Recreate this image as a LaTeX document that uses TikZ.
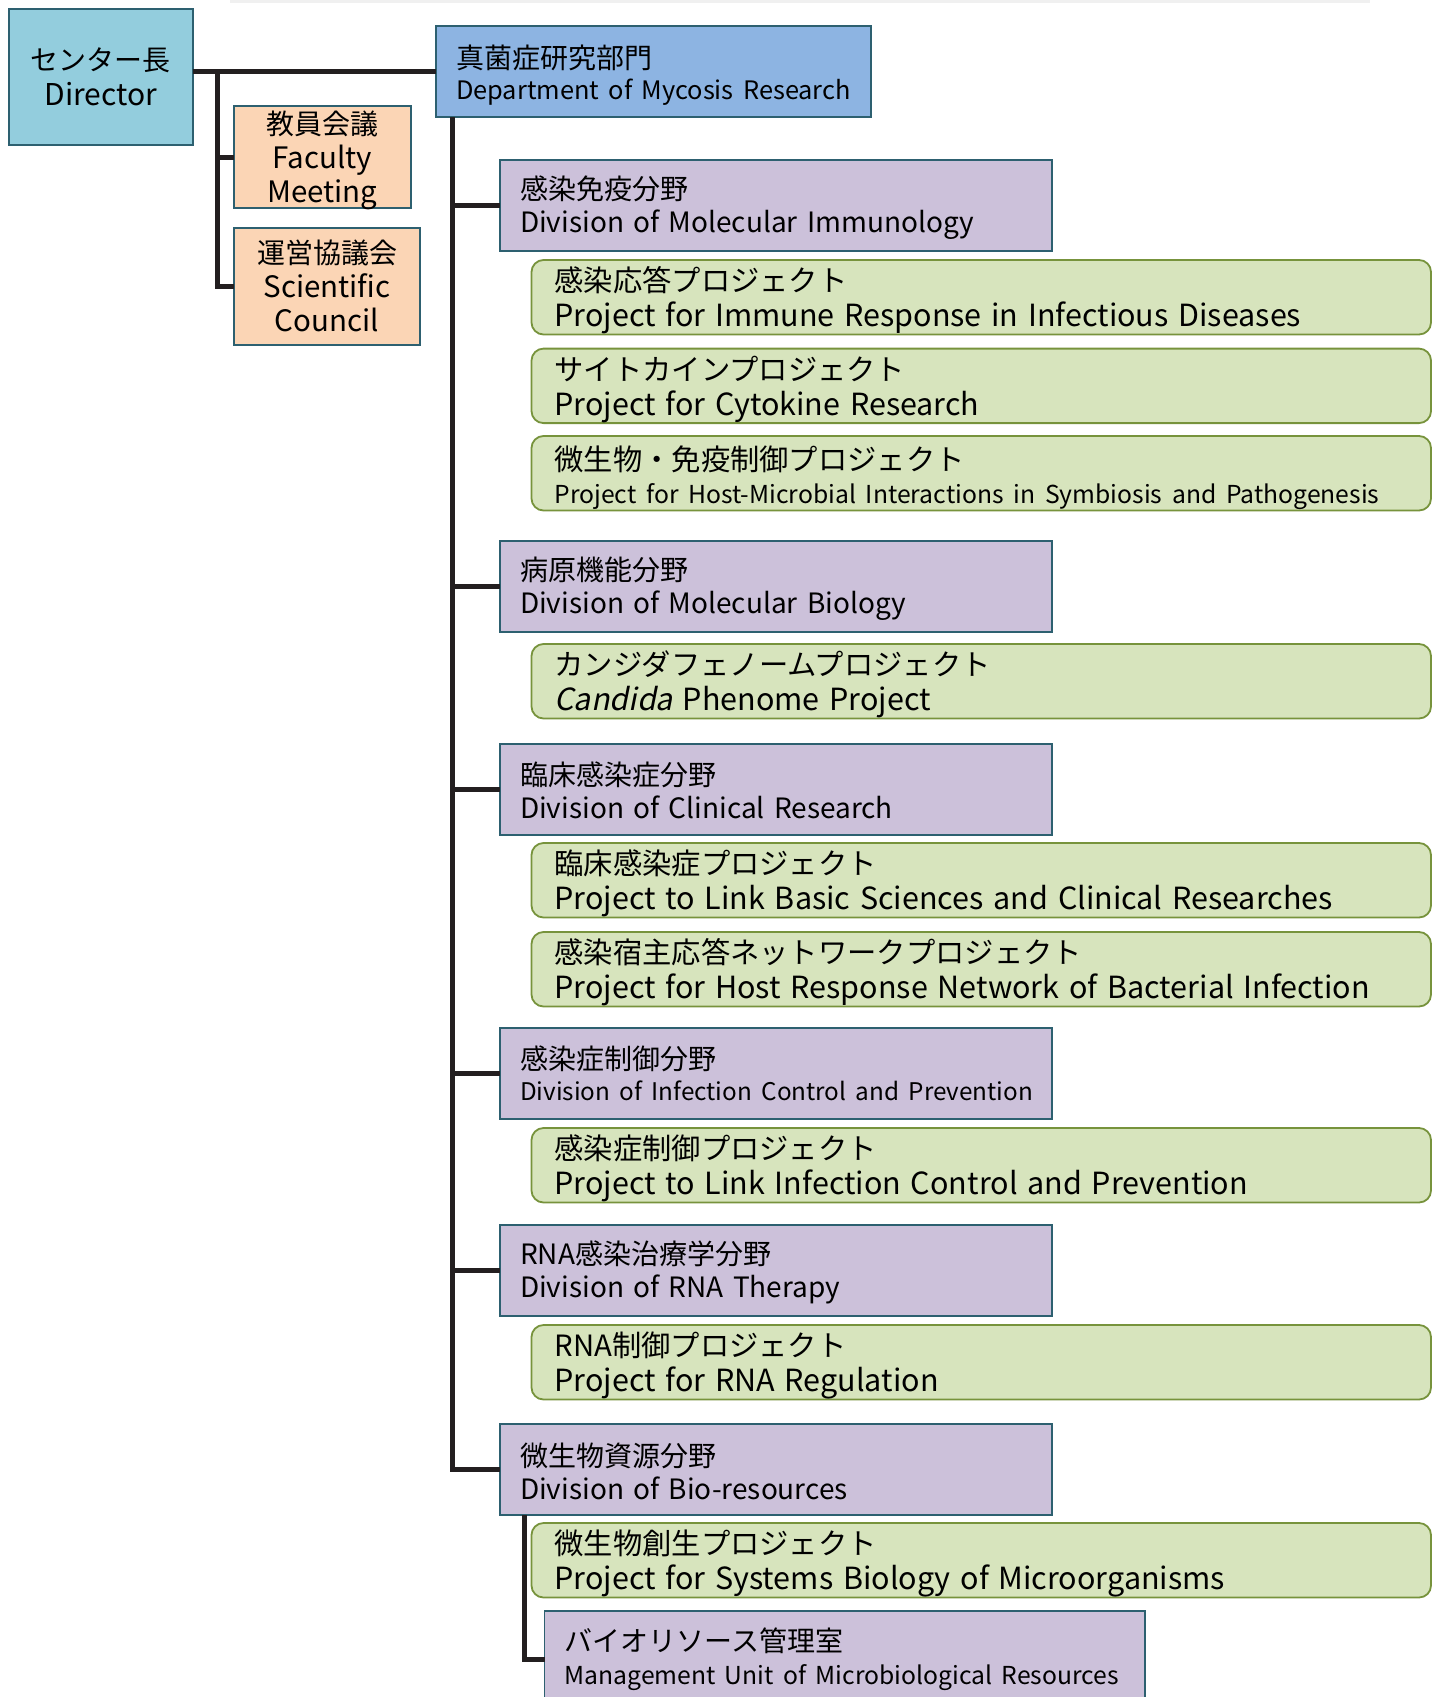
\documentclass[tikz,border=0pt]{standalone}
\usepackage{fontspec}
\setmainfont{Noto Sans CJK JP}
\newfontfamily\slantfont{Noto Sans CJK JP}[FakeSlant=0.2]
\definecolor{bordc}{HTML}{2D6070}
\definecolor{dirc}{HTML}{93CDDD}
\definecolor{facc}{HTML}{FBD5B5}
\definecolor{deptc}{HTML}{8DB4E2}
\definecolor{divc}{HTML}{CCC1DA}
\definecolor{grnfill}{HTML}{D7E4BD}
\definecolor{grnline}{HTML}{77933C}
\definecolor{connc}{HTML}{231F20}
\newcommand\fs[2]{\fontsize{#1}{#2}\selectfont}
% lower one line of text by #1 without changing its box size
\newcommand\lo[2][2pt]{\raisebox{-#1}[\height][\depth]{#2}}
\begin{document}
\begin{tikzpicture}[x=1pt,y=-1pt,
  box/.style={draw=bordc, line width=1.8pt, anchor=north west, inner ysep=0pt, outer sep=0pt},
  dirbox/.style={box, fill=dirc, minimum width=184pt, minimum height=136pt, align=center, font=\fs{28}{34}},
  facbox/.style={box, fill=facc, align=center, font=\fs{28}{34}, inner xsep=0pt},
  deptbox/.style={box, fill=deptc, text width=395pt, inner xsep=20pt, minimum height=91pt, align=left, font=\fs{28}{33}},
  divbox/.style={box, fill=divc, text width=512pt, inner xsep=20pt, minimum height=91pt, align=left, font=\fs{28}{33}},
  mgbox/.style={box, fill=divc, text width=560.5pt, inner xsep=20pt, minimum height=96pt, align=left, font=\fs{28}{33}},
  projbox/.style={draw=grnline, fill=grnfill, line width=1.8pt, rounded corners=12pt, anchor=north west, inner ysep=0pt, outer sep=0pt, text width=853.5pt, inner xsep=23pt, minimum height=74.5pt, align=left, font=\fs{29.3}{35}},
  conn/.style={draw=connc, line width=5pt}
]
\useasboundingbox (0,0) rectangle (1442,1697);
\fill[white] (0,0) rectangle (1442,1697);
\draw[gray!12, line width=3pt] (230,1) -- (1370,1);

\node[dirbox] (dir) at (8.7,8.7) {センター長\\\fs{30}{34}\lo[1pt]{Director}};
\node[facbox, text width=177pt, minimum height=102pt] (fac) at (234,106) {\lo[3.5pt]{教員会議}\\\fs{29.5}{34}\lo[3.5pt]{Faculty}\\\fs{29.5}{34}\lo[3.5pt]{Meeting}};
\node[facbox, text width=186pt, minimum height=117pt] (sci) at (234,228) {\lo[-1pt]{運営協議会}\\\fs{29.5}{34}\lo[-1pt]{Scientific}\\\fs{29.5}{34}\lo[-1pt]{Council}};
\node[deptbox] (dept) at (436,26) {\lo[4.3pt]{真菌症研究部門}\\\fs{25.4}{33}\lo[2.2pt]{Department of Mycosis Research}};

\node[divbox] (d1) at (500,160) {\lo{感染免疫分野}\\\lo{Division of Molecular Immunology}};
\node[projbox] (g1) at (531.5,260) {\lo[3.2pt]{感染応答プロジェクト}\\\fs{30.5}{35}\lo[3.2pt]{Project for Immune Response in Infectious Diseases}};
\node[projbox] (g2) at (531.5,348.6) {\lo[3.2pt]{サイトカインプロジェクト}\\\fs{30.5}{35}\lo[3.2pt]{Project for Cytokine Research}};
\node[projbox] (g3) at (531.5,436) {\lo[5.2pt]{微生物・免疫制御プロジェクト}\\\fs{24.7}{34}\lo[3.2pt]{Project for Host-Microbial Interactions in Symbiosis and Pathogenesis}};

\node[divbox] (d2) at (500,541) {\lo{病原機能分野}\\\lo{Division of Molecular Biology}};
\node[projbox] (g4) at (531.5,644) {\lo[3.2pt]{カンジダフェノームプロジェクト}\\\fs{30.5}{35}\lo[3.2pt]{{\slantfont Candida} Phenome Project}};

\node[divbox] (d3) at (500,744) {\lo[1pt]{臨床感染症分野}\\\lo[1pt]{Division of Clinical Research}};
\node[projbox] (g5) at (531.5,843) {\lo[3.2pt]{臨床感染症プロジェクト}\\\fs{30.5}{35}\lo[3.2pt]{Project to Link Basic Sciences and Clinical Researches}};
\node[projbox] (g6) at (531.5,932) {\lo[3.2pt]{感染宿主応答ネットワークプロジェクト}\\\fs{30.5}{35}\lo[3.2pt]{Project for Host Response Network of Bacterial Infection}};

\node[divbox, font=\fs{28}{31}] (d4) at (500,1028) {感染症制御分野\\\fs{24.3}{31}\mbox{Division of Infection Control and Prevention}};
\node[projbox] (g7) at (531.5,1128) {\lo[3.2pt]{感染症制御プロジェクト}\\\fs{30.5}{35}\lo[3.2pt]{Project to Link Infection Control and Prevention}};

\node[divbox] (d5) at (500,1225) {\lo{RNA感染治療学分野}\\\lo{Division of RNA Therapy}};
\node[projbox] (g8) at (531.5,1325) {\lo[3.2pt]{RNA制御プロジェクト}\\\fs{30.5}{35}\lo[3.2pt]{Project for RNA Regulation}};

\node[divbox] (d6) at (500,1424) {\lo{微生物資源分野}\\\lo{Division of Bio-resources}};
\node[projbox] (g9) at (531.5,1523) {\lo[3.2pt]{微生物創生プロジェクト}\\\fs{30.5}{35}\lo[3.2pt]{Project for Systems Biology of Microorganisms}};
\node[mgbox] (mg) at (544.5,1611) {\mbox{バイオリソース管理室}\\\fs{24.7}{33}\mbox{Management Unit of Microbiological Resources}};

% connectors
\coordinate (lj) at ([xshift=25pt]dir.east |- dept.west);
\draw[conn] (dir.east |- dept.west) -- (dept.west);
\draw[conn] (lj) |- (sci.west);
\draw[conn] (lj |- fac.west) -- (fac.west);

\coordinate (trunk) at ([xshift=16.5pt]dept.south west);
\draw[conn] (trunk) |- (d6.west);
\foreach \n in {d1,d2,d3,d4,d5} \draw[conn] (trunk |- \n.west) -- (\n.west);

\coordinate (sub) at ([xshift=24pt]d6.south west);
\draw[conn] (sub) |- (mg.west);
\end{tikzpicture}
\end{document}
